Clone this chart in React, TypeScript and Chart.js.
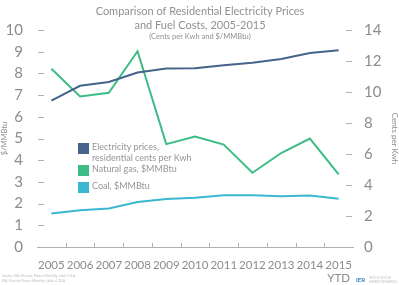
import React, { useEffect, useRef } from "react";
import { Chart, registerables } from "chart.js";

Chart.register(...registerables);

const years = ["2005", "2006", "2007", "2008", "2009", "2010", "2011", "2012", "2013", "2014", ["2015", "YTD"]];
const electricity = [9.45, 10.4, 10.65, 11.26, 11.51, 11.54, 11.72, 11.88, 12.13, 12.52, 12.7];
const naturalGas = [8.21, 6.94, 7.11, 9.02, 4.74, 5.09, 4.72, 3.42, 4.33, 5.0, 3.35];
const coal = [1.54, 1.69, 1.77, 2.07, 2.21, 2.27, 2.39, 2.38, 2.34, 2.37, 2.22];
const leftTicks = [0, 1, 2, 3, 4, 5, 6, 7, 8, 9, 10];
const rightTicks = [0, 2, 4, 6, 8, 10, 12, 14];

const ELEC = "#46638a";
const GAS = "#3dbd85";
const COAL = "#3ab8cf";
const GRAY = "#8c8c8c";
const FONT = "Lato, 'Open Sans', sans-serif";

const legendItems = [
  { color: ELEC, lines: ["Electricity prices,", "residential cents per Kwh"] },
  { color: GAS, lines: ["Natural gas, $MMBtu"] },
  { color: COAL, lines: ["Coal, $MMBtu"] },
];

const decorPlugin = {
  id: "decor",
  afterDraw(chart: any) {
    const ctx = chart.ctx;
    const area = chart.chartArea;
    ctx.save();
    // title
    ctx.fillStyle = "#919191";
    ctx.textAlign = "center";
    ctx.textBaseline = "middle";
    ctx.font = `11px ${FONT}`;
    ctx.fillText("Comparison of Residential Electricity Prices", 200, 11);
    ctx.fillText("and Fuel Costs, 2005-2015", 200, 25);
    ctx.font = `7.5px ${FONT}`;
    ctx.fillText("(Cents per Kwh and $/MMBtu)", 200, 37);

    // y tick dashes
    ctx.strokeStyle = "#b0b0b0";
    ctx.lineWidth = 1;
    const yl = chart.scales.y;
    yl.ticks.forEach((t: any) => {
      const py = Math.round(yl.getPixelForValue(t.value)) + 0.5;
      ctx.beginPath();
      ctx.moveTo(area.left + 1, py);
      ctx.lineTo(area.left + 7, py);
      ctx.stroke();
    });
    const yr = chart.scales.y1;
    yr.ticks.forEach((t: any) => {
      const py = Math.round(yr.getPixelForValue(t.value)) + 0.5;
      ctx.beginPath();
      ctx.moveTo(area.right - 7, py);
      ctx.lineTo(area.right - 1, py);
      ctx.stroke();
    });
    // x boundary ticks above axis
    const xs = chart.scales.x;
    for (let i = 1; i < years.length; i++) {
      const px = Math.round((xs.getPixelForValue(i - 1) + xs.getPixelForValue(i)) / 2) + 0.5;
      ctx.beginPath();
      ctx.moveTo(px, area.bottom);
      ctx.lineTo(px, area.bottom - 4);
      ctx.stroke();
    }

    // legend
    ctx.textAlign = "left";
    ctx.font = `9px ${FONT}`;
    let y = 143;
    legendItems.forEach((it) => {
      ctx.fillStyle = it.color;
      ctx.fillRect(78, y, 11, 11);
      ctx.fillStyle = "#959595";
      it.lines.forEach((ln, i) => {
        ctx.fillText(ln, 92, y + 4 + i * 11);
      });
      y += it.lines.length > 1 ? 22 : 17;
    });

    // footer
    ctx.fillStyle = "#bbbbbb";
    ctx.font = `3.5px ${FONT}`;
    ctx.fillText("Source: EIA, Electric Power Monthly, table 5.6.A", 2, 276);
    ctx.fillText("EIA, Electric Power Monthly, table 4.10.A", 2, 281);
    ctx.fillStyle = "#3a7fc1";
    ctx.font = `bold 6px ${FONT}`;
    ctx.fillText("IER", 356, 280);
    ctx.fillStyle = "#c0c0c0";
    ctx.font = `3px ${FONT}`;
    ctx.fillText("INSTITUTE FOR", 369, 278);
    ctx.fillText("ENERGY RESEARCH", 369, 282);
    ctx.restore();
  },
};

export default function App() {
  const ref = useRef<HTMLCanvasElement>(null);
  useEffect(() => {
    const chart = new Chart(ref.current as HTMLCanvasElement, {
      type: "line",
      data: {
        labels: years as any,
        datasets: [
          { label: "Electricity prices, residential cents per Kwh", data: electricity, borderColor: ELEC, backgroundColor: ELEC, yAxisID: "y1", borderWidth: 2, pointRadius: 0, tension: 0 },
          { label: "Natural gas, $MMBtu", data: naturalGas, borderColor: GAS, backgroundColor: GAS, yAxisID: "y", borderWidth: 2, pointRadius: 0, tension: 0 },
          { label: "Coal, $MMBtu", data: coal, borderColor: COAL, backgroundColor: COAL, yAxisID: "y", borderWidth: 2, pointRadius: 0, tension: 0 },
        ],
      },
      options: {
        responsive: false,
        animation: false,
        layout: { padding: { top: 30, bottom: 0, left: 0, right: 0 } },
        plugins: { legend: { display: false }, tooltip: { enabled: false }, title: { display: false } },
        scales: {
          x: {
            offset: true,
            grid: { display: false, offset: true },
            border: { display: true, color: "#b0b0b0" },
            ticks: { color: GRAY, font: { family: FONT, size: 11.5 }, padding: 3, maxRotation: 0, autoSkip: false },
            afterFit: (s: any) => { s.height = 38; },
          },
          y: {
            position: "left",
            min: 0,
            max: 10,
            afterBuildTicks: (s: any) => { s.ticks = leftTicks.map((v) => ({ value: v })); },
            grid: { display: false },
            border: { display: false },
            ticks: { color: GRAY, font: { family: FONT, size: 15 }, padding: 6 },
            title: { display: true, text: "$/MMBtu", color: GRAY, font: { family: FONT, size: 7.5 }, padding: 0 },
            afterFit: (s: any) => { s.width = 37; },
          },
          y1: {
            position: "right",
            min: 0,
            max: 14,
            afterBuildTicks: (s: any) => { s.ticks = rightTicks.map((v) => ({ value: v })); },
            grid: { display: false },
            border: { display: false },
            ticks: { color: GRAY, font: { family: FONT, size: 15 }, padding: 3 },
            title: { display: true, text: "Cents per Kwh", color: GRAY, font: { family: FONT, size: 8 }, padding: 0 },
            afterFit: (s: any) => { s.width = 46; },
          },
        },
      },
      plugins: [decorPlugin],
    } as any);
    return () => chart.destroy();
  }, []);
  return (
    <div style={{ position: "absolute", left: 0, top: 0, width: 399, height: 285, background: "#fff" }}>
      <canvas ref={ref} width={399} height={285} style={{ width: 399, height: 285 }} />
    </div>
  );
}
